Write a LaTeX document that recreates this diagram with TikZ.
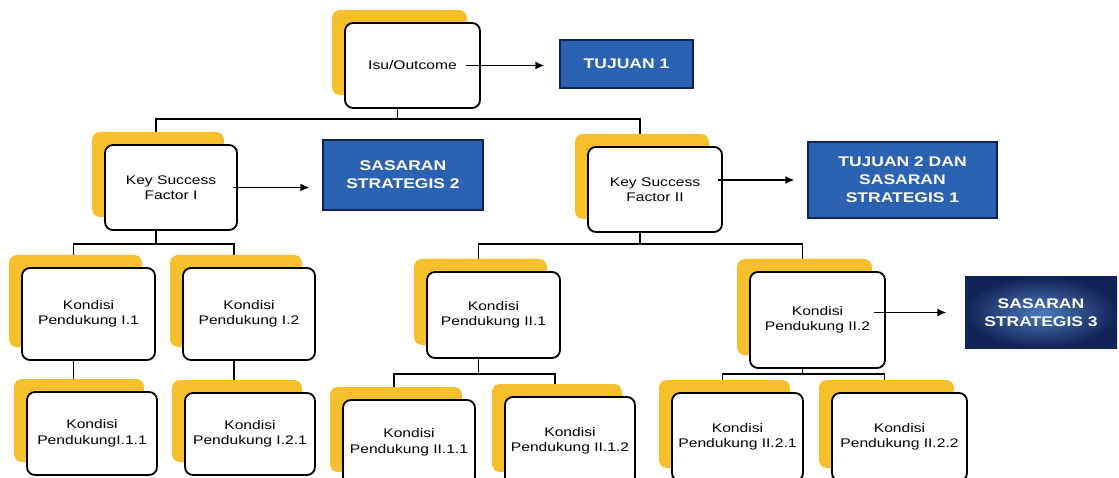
\documentclass[tikz,border=0pt]{standalone}
\usepackage{fontspec}
\newfontfamily\isi[FakeStretch=1.25]{Liberation Sans}
\usetikzlibrary{positioning,shadows,backgrounds,arrows.meta}

\definecolor{kuning}{RGB}{246,192,44}
\definecolor{biru}{RGB}{44,98,178}
\definecolor{birugelap}{RGB}{18,36,86}

\tikzset{
  kotak/.style={draw, line width=1.8pt, rounded corners=8pt, fill=white, align=center,
    inner sep=0pt, font=\isi\fontsize{12.5}{15.5}\selectfont,
    drop shadow={shadow xshift=-13pt, shadow yshift=13pt, fill=kuning, opacity=1}},
  sasaran/.style={draw=birugelap, line width=1.2pt, fill=biru, text=white, align=center,
    inner sep=0pt, font=\isi\bfseries\fontsize{14}{18}\selectfont},
  garis/.style={line width=1.4pt},
  panah/.style={->, line width=1.6pt}
}

\begin{document}
\begin{tikzpicture}[x=1pt, y=-1pt, >={Latex[length=9pt,width=8pt]}]
\useasboundingbox (0,0) rectangle (1119,478);
\clip (0,0) rectangle (1119,478);

% Level 1
\path
(412.5,65.5) node[kotak, minimum width=135pt, minimum height=85pt] (isu) {Isu/Outcome}
(626.5,64)   node[sasaran, minimum width=133pt, minimum height=48pt] (tujuan1) {TUJUAN 1};
\draw[panah] ([xshift=-15pt]isu.east) -- ([xshift=-15pt]tujuan1.west |- isu.east);

% Level 2
\path
(171,187.5)  node[kotak, minimum width=132pt, minimum height=85pt] (ksf1) {Key Success\\Factor I}
(403,175)    node[sasaran, minimum width=160pt, minimum height=70pt] (ss2) {SASARAN\\STRATEGIS 2}
(655,189.5)  node[kotak, minimum width=134pt, minimum height=85pt] (ksf2) {Key Success\\Factor II}
(902.5,180)  node[sasaran, minimum width=189pt, minimum height=76pt] (tujuan2) {TUJUAN 2 DAN\\SASARAN\\STRATEGIS 1};
\draw[panah] ([xshift=-5pt]ksf1.east) -- ([xshift=-13pt]ss2.west |- ksf1.east);
\draw[panah] ([xshift=-5pt]ksf2.east |- tujuan2.west) -- ([xshift=-13pt]tujuan2.west);

% Level 3
\path
(88.5,314)   node[kotak, minimum width=133pt, minimum height=92pt] (kp1) {Kondisi\\Pendukung I.1}
(249,314)    node[kotak, minimum width=132pt, minimum height=92pt] (kp2) {Kondisi\\Pendukung I.2}
(493.5,315)  node[kotak, minimum width=133pt, minimum height=86pt] (kpII1) {Kondisi\\Pendukung II.1}
(817.5,320)  node[kotak, minimum width=135pt, minimum height=96pt] (kpII2) {Kondisi\\Pendukung II.2}
(1041,312.5) node[sasaran, minimum width=152pt, minimum height=71pt, draw=none,
                  inner color=biru!85!white, outer color=birugelap] (ss3) {SASARAN\\STRATEGIS 3};
\draw[panah] ([xshift=-12pt]kpII2.east |- ss3.west) -- ([xshift=-18pt]ss3.west);

% Level 4
\path
(92,433.5)   node[kotak, minimum width=130pt, minimum height=83pt] (kp11) {Kondisi\\PendukungI.1.1}
(250,434)    node[kotak, minimum width=130pt, minimum height=82pt] (kp21) {Kondisi\\Pendukung I.2.1}
(409,442.5)  node[kotak, minimum width=132pt, minimum height=85pt] (kpII11) {Kondisi\\Pendukung II.1.1}
(570,441)    node[kotak, minimum width=130pt, minimum height=88pt] (kpII12) {Kondisi\\Pendukung II.1.2}
(737.5,437)  node[kotak, minimum width=131pt, minimum height=88pt] (kpII21) {Kondisi\\Pendukung II.2.1}
(899.5,437)  node[kotak, minimum width=135pt, minimum height=88pt] (kpII22) {Kondisi\\Pendukung II.2.2};

% connectors behind the boxes
\begin{pgfonlayer}{background}
\draw[garis] ([xshift=-15pt]isu.south) -- ++(0,10) -| ([xshift=-15pt]ksf1.north);
\draw[garis] ([xshift=-15pt]isu.south) -- ++(0,10) -| ([xshift=-15pt]ksf2.north);
\draw[garis] ([xshift=-15pt]ksf1.south) -- ++(0,13) -| ([xshift=-15pt]kp1.north);
\draw[garis] ([xshift=-15pt]ksf1.south) -- ++(0,13) -| ([xshift=-15pt]kp2.north);
\draw[garis] ([xshift=-15pt]ksf2.south) -- ++(0,11) -| ([xshift=-15pt]kpII1.north);
\draw[garis] ([xshift=-15pt]ksf2.south) -- ++(0,11) -| ([xshift=-15pt]kpII2.north);
\draw[garis] ([xshift=-15pt]kp1.south) -- ([xshift=-15pt]kp1.south |- kp11.north);
\draw[garis] ([xshift=-15pt]kp2.south) -- ([xshift=-15pt]kp2.south |- kp21.north);
\draw[garis] ([xshift=-15pt]kpII1.south) -- ++(0,15) -| ([xshift=-15pt]kpII11.north);
\draw[garis] ([xshift=-15pt]kpII1.south) -- ++(0,15) -| ([xshift=-15pt]kpII12.north);
\draw[garis] ([xshift=-15pt]kpII2.south) -- ++(0,5) -| ([xshift=-15pt]kpII21.north);
\draw[garis] ([xshift=-15pt]kpII2.south) -- ++(0,5) -| ([xshift=-15pt]kpII22.north);
\end{pgfonlayer}

\end{tikzpicture}
\end{document}
